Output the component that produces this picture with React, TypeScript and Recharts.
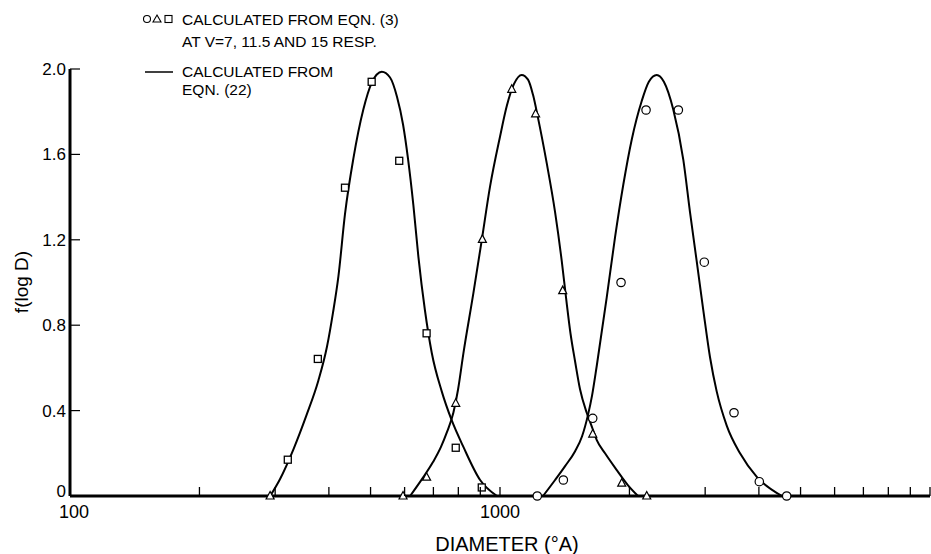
import React from 'react';
import { ComposedChart, Line, Scatter, XAxis, YAxis } from 'recharts';

// ---- curves (calculated from Eqn. 22) ----
const squareCurveD = [292, 308, 331, 355, 378, 396, 409, 421, 436, 456, 481, 503, 531, 555, 576, 595, 611, 629, 646, 669, 694, 732, 772, 822, 899, 984];
const squareCurveF = [0, 0.08, 0.22, 0.38, 0.54, 0.7, 0.86, 1.03, 1.32, 1.58, 1.81, 1.935, 1.987, 1.96, 1.87, 1.74, 1.58, 1.36, 1.12, 0.87, 0.67, 0.49, 0.355, 0.23, 0.075, 0];

const triangleCurveD = [618, 659, 699, 729, 753, 779, 799, 822, 867, 907, 948, 1000, 1038, 1078, 1123, 1162, 1193, 1226, 1284, 1343, 1392, 1424, 1459, 1495, 1535, 1591, 1635, 1679, 1755, 1871, 1985, 2094];
const triangleCurveF = [0, 0.08, 0.16, 0.23, 0.3, 0.39, 0.5, 0.668, 0.949, 1.199, 1.449, 1.683, 1.83, 1.93, 1.972, 1.95, 1.88, 1.77, 1.56, 1.33, 1.1, 0.93, 0.76, 0.63, 0.5, 0.39, 0.325, 0.262, 0.2, 0.12, 0.05, 0];

const circleCurveD = [1259, 1343, 1417, 1495, 1552, 1602, 1637, 1679, 1771, 1851, 1936, 2025, 2136, 2219, 2315, 2405, 2529, 2669, 2766, 2867, 2970, 3079, 3191, 3367, 3616, 3955, 4529];
const circleCurveF = [0, 0.075, 0.14, 0.21, 0.28, 0.38, 0.47, 0.61, 0.93, 1.21, 1.46, 1.67, 1.85, 1.94, 1.972, 1.94, 1.81, 1.574, 1.33, 1.1, 0.871, 0.65, 0.49, 0.33, 0.2, 0.09, 0];

// ---- points (calculated from Eqn. 3) ----
const squarePointD = [321, 377, 436, 503, 583, 675, 789, 907];
const squarePointF = [0.17, 0.642, 1.444, 1.94, 1.57, 0.762, 0.226, 0.04];

const trianglePointD = [292, 595, 675, 789, 910, 1065, 1210, 1399, 1643, 1919, 2194];
const trianglePointF = [0, 0, 0.088, 0.434, 1.202, 1.905, 1.79, 0.962, 0.29, 0.06, 0];

const circlePointD = [1221, 1404, 1643, 1912, 2186, 2599, 2986, 3501, 4009, 4642];
const circlePointF = [0, 0.075, 0.364, 1.0, 1.808, 1.808, 1.095, 0.39, 0.067, 0];

// ---- axes ----
const xTicks = [100, 200, 300, 400, 500, 600, 700, 800, 900, 1000, 2000, 3000, 4000, 5000, 6000, 7000, 8000, 9000, 10000];
const xTickLabels: Record<number, string> = { 100: '100', 1000: '1000' };
const yTicks = [0, 0.4, 0.8, 1.2, 1.6, 2.0];
const yTickLabels = ['0', '0.4', '0.8', '1.2', '1.6', '2.0'];

const zip = (ds: number[], fs: number[]) => ds.map((d, i) => ({ d, f: fs[i] }));
const squareCurve = zip(squareCurveD, squareCurveF);
const triangleCurve = zip(triangleCurveD, triangleCurveF);
const circleCurve = zip(circleCurveD, circleCurveF);
const squarePoints = zip(squarePointD, squarePointF);
const trianglePoints = zip(trianglePointD, trianglePointF);
const circlePoints = zip(circlePointD, circlePointF);

const FONT = '"Liberation Sans", Arial, sans-serif';

const SquareShape = (p: any) => (
  <rect x={p.cx - 3.5} y={p.cy - 3.5} width={7} height={7} fill="#fff" stroke="#000" strokeWidth={1.3} />
);
const TriangleShape = (p: any) => (
  <polygon points={`${p.cx},${p.cy - 4.5} ${p.cx + 4},${p.cy + 3} ${p.cx - 4},${p.cy + 3}`} fill="#fff" stroke="#000" strokeWidth={1.2} />
);
const CircleShape = (p: any) => (
  <circle cx={p.cx} cy={p.cy} r={4.2} fill="#fff" stroke="#000" strokeWidth={1.2} />
);

const XTick = (props: any) => {
  const { x, y, payload } = props;
  const label = xTickLabels[payload.value];
  return (
    <g>
      <line x1={x} x2={x} y1={y} y2={y - 9} stroke="#000" strokeWidth={1.3} />
      {label ? (
        <text x={x + (payload.value === 100 ? 4 : 0)} y={y + 22} textAnchor="middle" fontFamily={FONT} fontSize={18} fill="#000">
          {label}
        </text>
      ) : null}
    </g>
  );
};

const YTick = (props: any) => {
  const { x, y, payload, index } = props;
  const idx = yTicks.indexOf(payload.value);
  const label = yTickLabels[idx >= 0 ? idx : index];
  return (
    <g>
      <line x1={x} x2={x + 10} y1={y} y2={y} stroke="#000" strokeWidth={1.2} />
      <text x={x - 4} y={y + (payload.value === 0 ? 1 : 6)} textAnchor="end" fontFamily={FONT} fontSize={17} fill="#000">
        {label}
      </text>
    </g>
  );
};

export default function App() {
  return (
    <div style={{ position: 'absolute', left: 0, top: 0, width: 931, height: 554, background: '#fff' }}>
      <ComposedChart
        width={931}
        height={554}
        margin={{ top: 69, right: 1, left: 0, bottom: 0 }}
        style={{ position: 'absolute', left: 0, top: 0 }}
      >
        <XAxis
          dataKey="d"
          type="number"
          scale="log"
          domain={[100, 10000]}
          ticks={xTicks}
          interval={0}
          allowDataOverflow
          height={58}
          tickSize={0}
          tickMargin={0}
          tickLine={false}
          axisLine={{ stroke: '#000', strokeWidth: 3 }}
          tick={<XTick />}
        />
        <YAxis
          dataKey="f"
          type="number"
          domain={[0, 2]}
          ticks={yTicks}
          interval={0}
          width={70}
          tickSize={0}
          tickMargin={0}
          tickLine={false}
          axisLine={{ stroke: '#000', strokeWidth: 3 }}
          tick={<YTick />}
        />
        <Line data={squareCurve} dataKey="f" type="monotone" stroke="#000" strokeWidth={2} dot={false} isAnimationActive={false} />
        <Line data={triangleCurve} dataKey="f" type="monotone" stroke="#000" strokeWidth={2} dot={false} isAnimationActive={false} />
        <Line data={circleCurve} dataKey="f" type="monotone" stroke="#000" strokeWidth={2} dot={false} isAnimationActive={false} />
        <Scatter data={squarePoints} dataKey="f" shape={SquareShape} isAnimationActive={false} />
        <Scatter data={trianglePoints} dataKey="f" shape={TriangleShape} isAnimationActive={false} />
        <Scatter data={circlePoints} dataKey="f" shape={CircleShape} isAnimationActive={false} />
      </ComposedChart>
      <svg width={931} height={554} style={{ position: 'absolute', left: 0, top: 0, pointerEvents: 'none' }}>
        <circle cx={147} cy={19} r={3.5} fill="#fff" stroke="#000" strokeWidth={1.1} />
        <polygon points="157,15 161,22 153,22" fill="#fff" stroke="#000" strokeWidth={1.1} />
        <rect x={165} y={15.5} width={7} height={7} fill="#fff" stroke="#000" strokeWidth={1.1} />
        <text x={182} y={25} fontFamily={FONT} fontSize={15.5} fill="#000">CALCULATED FROM EQN. (3)</text>
        <text x={182} y={47} fontFamily={FONT} fontSize={15.5} fill="#000">AT V=7, 11.5 AND 15 RESP.</text>
        <line x1={145} x2={173} y1={72} y2={72} stroke="#000" strokeWidth={1.5} />
        <text x={182} y={77} fontFamily={FONT} fontSize={15.5} fill="#000">CALCULATED FROM</text>
        <text x={182} y={95} fontFamily={FONT} fontSize={15.5} fill="#000">EQN. (22)</text>
        <text x={21} y={282} fontFamily={FONT} fontSize={19} fill="#000" textAnchor="middle" transform="rotate(-90 21 282)" dominantBaseline="central">f(log D)</text>
        <text x={507} y={551} fontFamily={FONT} fontSize={20} fill="#000" textAnchor="middle">DIAMETER (°A)</text>
      </svg>
    </div>
  );
}
